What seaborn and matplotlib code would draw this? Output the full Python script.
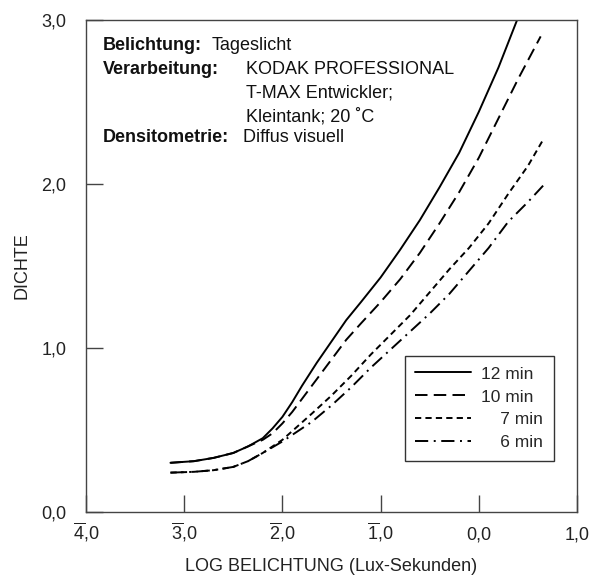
import matplotlib
matplotlib.use("Agg")
import matplotlib.pyplot as plt
from matplotlib.lines import Line2D
import seaborn as sns
import pandas as pd

# ---- data ----
x_12 = [-3.14, -2.9, -2.7, -2.5, -2.35, -2.2, -2.1, -2.0, -1.9, -1.8, -1.65, -1.5, -1.35, -1.2,
        -1.0, -0.8, -0.6, -0.4, -0.2, 0.0, 0.2, 0.39]
d_12 = [0.30, 0.31, 0.33, 0.36, 0.40, 0.45, 0.51, 0.58, 0.67, 0.77, 0.91, 1.04, 1.17, 1.28,
        1.43, 1.60, 1.78, 1.98, 2.19, 2.44, 2.71, 3.00]

x_10 = [-3.14, -2.9, -2.7, -2.5, -2.35, -2.2, -2.1, -2.0, -1.9, -1.8, -1.65, -1.5, -1.35, -1.2,
        -1.0, -0.8, -0.6, -0.4, -0.2, 0.0, 0.2, 0.4, 0.63]
d_10 = [0.30, 0.31, 0.33, 0.36, 0.40, 0.44, 0.48, 0.54, 0.61, 0.69, 0.81, 0.93, 1.05, 1.15,
        1.28, 1.42, 1.58, 1.76, 1.95, 2.16, 2.40, 2.64, 2.90]

x_7 = [-3.14, -2.9, -2.7, -2.5, -2.35, -2.2, -2.0, -1.85, -1.7, -1.5, -1.3, -1.1, -0.9, -0.7,
       -0.5, -0.3, -0.1, 0.1, 0.3, 0.5, 0.655]
d_7 = [0.24, 0.245, 0.255, 0.275, 0.31, 0.36, 0.44, 0.52, 0.60, 0.71, 0.83, 0.96, 1.08, 1.20,
       1.34, 1.48, 1.61, 1.76, 1.94, 2.11, 2.27]

x_6 = [-3.14, -2.9, -2.7, -2.5, -2.35, -2.2, -2.0, -1.85, -1.7, -1.5, -1.3, -1.1, -0.9, -0.7,
       -0.5, -0.3, -0.1, 0.1, 0.3, 0.5, 0.655]
d_6 = [0.24, 0.245, 0.255, 0.275, 0.31, 0.36, 0.43, 0.49, 0.55, 0.65, 0.76, 0.88, 0.99, 1.10,
       1.21, 1.33, 1.47, 1.61, 1.77, 1.89, 1.99]

series_labels = ["12 min", "10 min", "\u2007\u20077 min", "\u2007\u20076 min"]
x_ticks = [-4, -3, -2, -1, 0, 1]
x_ticklabels = [r"$\overline{\mathrm{4}}$,0", r"$\overline{\mathrm{3}}$,0", r"$\overline{\mathrm{2}}$,0",
                r"$\overline{\mathrm{1}}$,0", "0,0", "1,0"]
y_ticks = [0, 1, 2, 3]
y_ticklabels = ["0,0", "1,0", "2,0", "3,0"]

sns.set_theme(style="white")
plt.rcParams["font.family"] = ["Liberation Sans", "DejaVu Sans"]
plt.rcParams["mathtext.fontset"] = "custom"
plt.rcParams["mathtext.rm"] = "Liberation Sans"
plt.rcParams["lines.scale_dashes"] = False

FS = 13
fig = plt.figure(figsize=(5.91, 5.77), dpi=100)
ax = fig.add_axes([86 / 591, 65 / 577, 491 / 591, 492 / 577])

styles = [
    (x_12, d_12, "-"),
    (x_10, d_10, (0, (9.0, 4.5))),
    (x_7, d_7, (0, (4.5, 3.0))),
    (x_6, d_6, (0, (9.5, 4.0, 1.4, 4.0))),
]
handles = []
for (xs, ds, ls), lab in zip(styles, series_labels):
    df = pd.DataFrame({"x": xs, "D": ds})
    sns.lineplot(data=df, x="x", y="D", ax=ax, color="black", linewidth=1.4,
                 sort=False, estimator=None, linestyle=ls)
    ax.lines[-1].set_linestyle(ls)
    handles.append(Line2D([0], [0], color="black", linewidth=1.4, linestyle=ls, label=lab))

ax.set_xlim(-4, 1)
ax.set_ylim(0, 3)
ax.set_xticks(x_ticks)
ax.set_xticklabels(x_ticklabels)
ax.set_yticks(y_ticks)
ax.set_yticklabels(y_ticklabels)
ax.tick_params(axis="both", direction="in", length=12, width=1.0, color="#444444",
               labelsize=FS, labelcolor="#222222", bottom=True, left=True)
ax.tick_params(axis="y", pad=14)
ax.tick_params(axis="x", pad=20)
for lab in ax.get_xticklabels():
    lab.set_verticalalignment("baseline")
for s in ax.spines.values():
    s.set_visible(True)
    s.set_color("#444444")
    s.set_linewidth(1.0)

ax.set_xlabel("LOG BELICHTUNG (Lux-Sekunden)", fontsize=FS, color="#222222", labelpad=10)
ax.set_ylabel("DICHTE", fontsize=FS, color="#222222", labelpad=8)

# annotation block
def px(xp, yp):
    return ((xp - 86) / 491, (512 - yp) / 492)

tkw = dict(transform=ax.transAxes, fontsize=FS, color="#111111", va="center")
ax.text(*px(103, 46), "Belichtung:", fontweight="bold", **tkw)
ax.text(*px(212, 46), "Tageslicht", **tkw)
ax.text(*px(103, 69), "Verarbeitung:", fontweight="bold", **tkw)
ax.text(*px(246, 69), "KODAK PROFESSIONAL", **tkw)
ax.text(*px(246, 93), "T-MAX Entwickler;", **tkw)
ax.text(*px(246, 117), "Kleintank; 20 \u02daC", **tkw)
ax.text(*px(103, 138), "Densitometrie:", fontweight="bold", **tkw)
ax.text(*px(243, 138), "Diffus visuell", **tkw)

leg = ax.legend(handles=handles, loc="upper left", bbox_to_anchor=px(405, 356),
                frameon=True, fancybox=False, edgecolor="black", fontsize=12.5,
                handlelength=3.2, handletextpad=0.6, borderpad=0.6, labelspacing=0.45,
                borderaxespad=0)
leg.get_frame().set_linewidth(1.0)

fig.savefig("out.png", dpi=100)
